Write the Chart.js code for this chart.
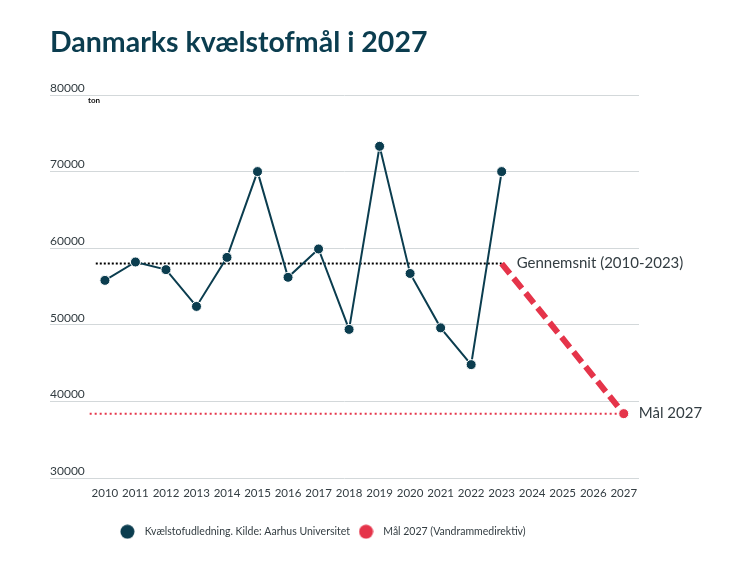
<!DOCTYPE html>
<html lang="da">
<head>
<meta charset="utf-8">
<title>Danmarks kvælstofmål i 2027</title>
<script src="https://cdn.jsdelivr.net/npm/chart.js@4.4.1/dist/chart.umd.min.js"></script>
<style>
  html, body { margin: 0; padding: 0; background: #fff; }
</style>
</head>
<body>
<canvas id="kvaelstofChart" width="747" height="563"></canvas>
<script>
// data (ton kvælstof)
const years = [2010, 2011, 2012, 2013, 2014, 2015, 2016, 2017, 2018, 2019, 2020, 2021, 2022, 2023];
const udledning = [55800, 58200, 57200, 52400, 58800, 70000, 56200, 59900, 49400, 73300, 56700, 49600, 44800, 70000];
const axisYears = [2010, 2011, 2012, 2013, 2014, 2015, 2016, 2017, 2018, 2019, 2020, 2021, 2022, 2023, 2024, 2025, 2026, 2027];
const yTicks = [30000, 40000, 50000, 60000, 70000, 80000];
const gennemsnit = 58000;
const maal2027 = 38400;
const maalAar = 2027;
const gennemsnitSpan = [2009.7, 2023];
const maalSpan = [2009.5, 2027];

const MORK = '#0b3d4f';
const ROD = '#e5344a';
const TEKST = '#333d42';

// runde prikker til legenden, så der er luft mellem prik og tekst
function prik(farve) {
    const c = document.createElement('canvas');
    c.width = 15;
    c.height = 15;
    const g = c.getContext('2d');
    g.fillStyle = farve;
    g.beginPath();
    g.arc(7.5, 7.5, 7, 0, Math.PI * 2);
    g.fill();
    return c;
}

const tekstPlugin = {
    id: 'tekst',
    afterLayout(chart) {
        // legenden sidder lidt til venstre i originalen
        chart.legend.left -= 24;
        chart.legend.right -= 24;
    },
    afterDatasetsDraw(chart) {
        const { ctx, chartArea } = chart;
        const x = chart.scales.x;
        const y = chart.scales.y;
        ctx.save();
        ctx.fillStyle = TEKST;
        ctx.textBaseline = 'middle';
        ctx.font = '15px Lato';
        ctx.fillText('Gennemsnit (2010-2023)', x.getPixelForValue(gennemsnitSpan[1]) + 15, y.getPixelForValue(gennemsnit));
        ctx.fillText('Mål 2027', x.getPixelForValue(maalAar) + 15, y.getPixelForValue(maal2027));
        ctx.font = 'bold 8px Lato';
        ctx.fillStyle = '#111';
        ctx.fillText('ton', chartArea.left + 38, y.getPixelForValue(yTicks[yTicks.length - 1]) + 5);
        ctx.restore();
    }
};

const ctx = document.getElementById('kvaelstofChart');

new Chart(ctx, {
    type: 'line',
    data: {
        datasets: [{
            label: 'Kvælstofudledning. Kilde: Aarhus Universitet',
            data: years.map((yr, i) => ({ x: yr, y: udledning[i] })),
            borderColor: MORK,
            backgroundColor: MORK,
            borderWidth: 2,
            pointRadius: 5,
            pointBackgroundColor: MORK,
            pointBorderColor: '#fff',
            pointBorderWidth: 1,
            pointStyle: 'circle',
            tension: 0
        }, {
            label: 'Mål 2027 (Vandrammedirektiv)',
            data: [{ x: gennemsnitSpan[1], y: gennemsnit }, { x: maalAar, y: maal2027 }],
            borderColor: ROD,
            backgroundColor: ROD,
            borderWidth: 6,
            borderDash: [13, 6],
            pointRadius: [0, 5],
            pointBackgroundColor: ROD,
            pointBorderColor: '#fff',
            pointBorderWidth: 1,
            pointStyle: 'circle'
        }, {
            label: 'gennemsnit',
            data: gennemsnitSpan.map(v => ({ x: v, y: gennemsnit })),
            borderColor: '#000',
            borderWidth: 2,
            borderDash: [2, 2],
            pointRadius: 0
        }, {
            label: 'maal',
            data: maalSpan.map(v => ({ x: v, y: maal2027 })),
            borderColor: ROD,
            borderWidth: 2,
            borderDash: [2, 3],
            pointRadius: 0
        }]
    },
    options: {
        responsive: false,
        animation: false,
        layout: {
            padding: { left: 50, right: 108, top: 0, bottom: 16 }
        },
        scales: {
            x: {
                type: 'linear',
                min: 2008.2,
                max: 2027.5,
                afterBuildTicks: scale => { scale.ticks = axisYears.map(v => ({ value: v })); },
                afterFit: scale => { scale.height = 44.5; },
                grid: { display: false },
                border: { display: false },
                ticks: {
                    autoSkip: false,
                    maxRotation: 0,
                    padding: 0,
                    color: TEKST,
                    font: { family: 'Lato', size: 11.5 },
                    callback: v => String(v)
                }
            },
            y: {
                min: yTicks[0],
                max: yTicks[yTicks.length - 1],
                afterBuildTicks: scale => { scale.ticks = yTicks.map(v => ({ value: v })); },
                grid: { color: '#d3d8da', drawTicks: false },
                border: { display: false },
                ticks: {
                    mirror: true,
                    padding: 0,
                    labelOffset: -7,
                    color: TEKST,
                    font: { family: 'Lato', size: 12 },
                    callback: v => String(v)
                }
            }
        },
        plugins: {
            title: {
                display: true,
                text: 'Danmarks kvælstofmål i 2027',
                align: 'start',
                color: MORK,
                font: { family: 'Lato', size: 28.5, weight: 'bold' },
                padding: { top: 26, bottom: 34.8 }
            },
            legend: {
                position: 'bottom',
                labels: {
                    usePointStyle: true,
                    pointStyleWidth: 24,
                    boxHeight: 10.5,
                    padding: 4,
                    color: TEKST,
                    font: { family: 'Lato', size: 10.5 },
                    generateLabels(chart) {
                        return Chart.defaults.plugins.legend.labels.generateLabels(chart)
                            .filter(l => l.datasetIndex < 2)
                            .map(l => Object.assign(l, { lineWidth: 0, lineDash: [], pointStyle: prik(l.fillStyle) }));
                    }
                }
            },
            tooltip: { enabled: false }
        }
    },
    plugins: [tekstPlugin]
});
</script>
</body>
</html>
